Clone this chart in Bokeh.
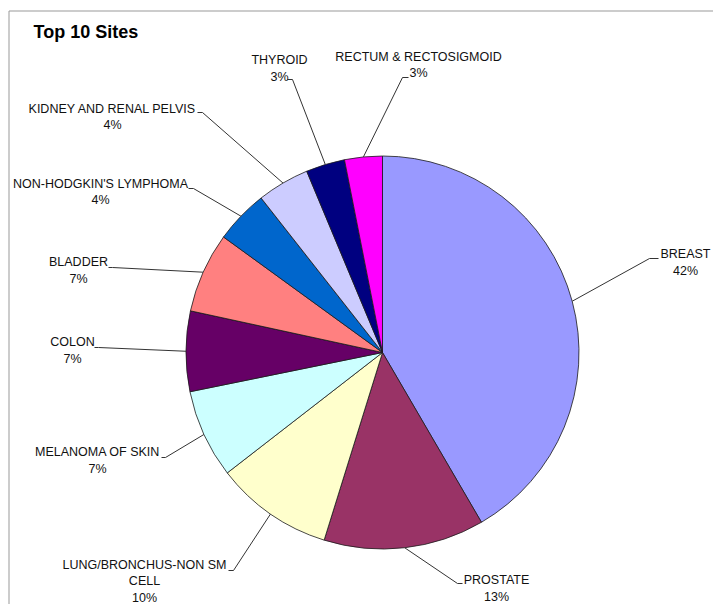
import math
from bokeh.plotting import figure
from bokeh.models import Range1d, ColumnDataSource
from bokeh.core.properties import value
from bokeh.embed import file_html
from bokeh.resources import INLINE

# ---- data ----
categories = ["BREAST", "PROSTATE", "LUNG/BRONCHUS-NON SM\nCELL", "MELANOMA OF SKIN",
              "COLON", "BLADDER", "NON-HODGKIN'S LYMPHOMA", "KIDNEY AND RENAL PELVIS",
              "THYROID", "RECTUM & RECTOSIGMOID"]
shares = [41.6, 13.2, 9.7, 7.3, 6.6, 6.6, 4.4, 4.3, 3.2, 3.1]
colors = ["#9999FF", "#993366", "#FFFFCC", "#CCFFFF", "#660066",
          "#FF8080", "#0066CC", "#CCCCFF", "#000080", "#FF00FF"]
title_text = "Top 10 Sites"

# ---- layout (screen pixels) ----
W, H = 713, 604
cx, cy, R = 382, 352, 196.5
label_x = [685, 496, 144, 97, 72, 78, 100, 112, 279, 418]
label_y = [262, 588, 581, 460, 350, 270, 191.5, 116.5, 68, 64.5]
hook_a = [658, 462, 228, 161, 94, 108, 188, 197, 287, 408]
hook_b = [649, 457, 233, 165, 98, 112, 193, 202, 292, 402]
hook_y = [258, 583, 570, 457, 347, 267, 188, 112, 79, 77]

p = figure(width=W, height=H, output_backend="svg", toolbar_location=None,
           x_range=Range1d(0, W), y_range=Range1d(-H, 0),
           min_border=0, outline_line_color=None)
p.axis.visible = False
p.grid.visible = False
p.background_fill_color = "white"
p.border_fill_color = "white"

total = sum(shares)
starts, ends, mids = [], [], []
acc = 0.0
for s in shares:
    a0 = acc / total
    acc += s
    a1 = acc / total
    starts.append(math.pi / 2 - 2 * math.pi * a1)
    ends.append(math.pi / 2 - 2 * math.pi * a0)
    mids.append((a0 + a1) / 2)

src = ColumnDataSource(dict(x=[cx] * len(shares), y=[-cy] * len(shares),
                            start=starts, end=ends, color=colors))
p.wedge(x="x", y="y", radius=R, start_angle="start", end_angle="end",
        direction="anticlock", fill_color="color", line_color="#1a1a1a",
        line_width=0.8, source=src)

# leader lines
xs, ys = [], []
for i, m in enumerate(mids):
    ang = 2 * math.pi * m
    px = cx + R * math.sin(ang)
    py = cy - R * math.cos(ang)
    xs.append([hook_a[i], hook_b[i], px])
    ys.append([-hook_y[i], -hook_y[i], -py])
p.multi_line(xs=xs, ys=ys, line_color="#333333", line_width=1)

# labels
labels = [f"{c}\n{round(s / total * 100)}%" for c, s in zip(categories, shares)]
p.text(x=label_x, y=[-v for v in label_y], text=labels,
       text_font=value("Liberation Sans"), text_font_size="12.5px",
       text_align="center", text_baseline="middle", text_color="#111111",
       text_line_height=1.15)

# title
p.text(x=[33], y=[-31], text=[title_text], text_font=value("Liberation Sans"),
       text_font_size="18px", text_font_style="bold", text_align="left",
       text_baseline="middle", text_color="#000000")

# frame (left and top edges)
p.line(x=[8.5, 8.5], y=[-H, -10.5], line_color="#999999", line_width=1)
p.line(x=[8.5, W], y=[-10.5, -10.5], line_color="#999999", line_width=1)

open("out.html", "w").write(file_html(p, INLINE))
